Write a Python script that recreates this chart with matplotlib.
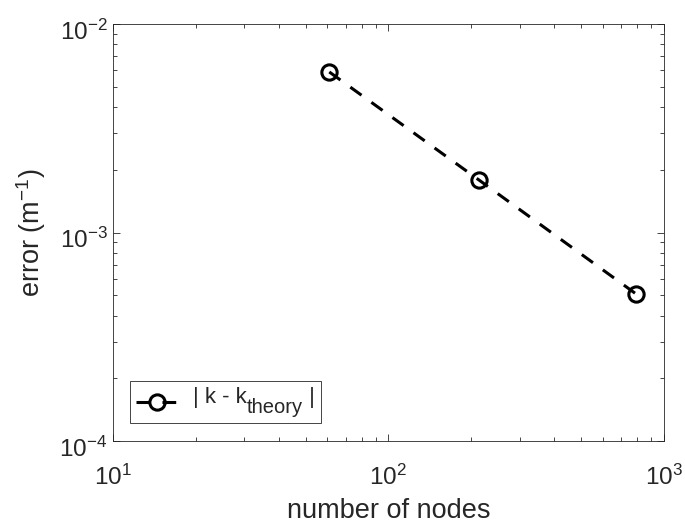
import matplotlib
matplotlib.use("Agg")
import matplotlib.pyplot as plt
import matplotlib.transforms as mtransforms
from matplotlib.lines import Line2D
from matplotlib.offsetbox import (AnchoredOffsetbox, DrawingArea, TextArea,
                                  HPacker, VPacker)
from matplotlib.ticker import LogLocator, NullFormatter, FixedLocator, FixedFormatter

plt.rcParams['font.family'] = ['Liberation Sans', 'DejaVu Sans']
plt.rcParams['mathtext.fontset'] = 'custom'
plt.rcParams['mathtext.rm'] = 'Liberation Sans'
plt.rcParams['mathtext.it'] = 'Liberation Sans'
plt.rcParams['mathtext.default'] = 'regular'

nodes = [61, 213, 796]
error = [5.9e-3, 1.79e-3, 5.06e-4]
xticks = [10, 100, 1000]
xtick_labels = ['$10^{1}$', '$10^{2}$', '$10^{3}$']
yticks = [1e-4, 1e-3, 1e-2]
ytick_labels = ['$10^{-4}$', '$10^{-3}$', '$10^{-2}$']
legend_main = '| k - k'
legend_sub = 'theory'
legend_end = ' |'

grey = '#262626'
lw = 2.2
dash = (0, (4.5, 4))
fig = plt.figure(figsize=(6.85, 5.26), dpi=100)
ax = fig.add_axes([0.165, 0.1616, 0.804, 0.7924])
ax.plot(nodes, error, linestyle=dash, color='black', linewidth=lw,
        marker='o', markersize=11, markerfacecolor='none', markeredgewidth=lw)
ax.set_xscale('log')
ax.set_yscale('log')
ax.set_xlim(10, 1000)
ax.set_ylim(1e-4, 1e-2)
ax.xaxis.set_major_locator(FixedLocator(xticks))
ax.xaxis.set_major_formatter(FixedFormatter(xtick_labels))
ax.yaxis.set_major_locator(FixedLocator(yticks))
ax.yaxis.set_major_formatter(FixedFormatter(ytick_labels))
ax.xaxis.set_minor_locator(LogLocator(base=10, subs=range(2, 10)))
ax.yaxis.set_minor_locator(LogLocator(base=10, subs=range(2, 10)))
ax.xaxis.set_minor_formatter(NullFormatter())
ax.yaxis.set_minor_formatter(NullFormatter())
ax.tick_params(which='both', direction='in', top=True, right=True, colors=grey, width=0.6)
ax.tick_params(which='major', length=5, labelsize=17.5)
ax.tick_params(which='minor', length=3)
ax.tick_params(axis='x', which='major', pad=17)
ax.tick_params(axis='y', which='major', pad=4)
shift = mtransforms.ScaledTranslation(0, -4 / 72, fig.dpi_scale_trans)
for lab in ax.get_yticklabels():
    lab.set_transform(lab.get_transform() + shift)
for s in ax.spines.values():
    s.set_color(grey)
    s.set_linewidth(0.6)
ax.set_xlabel('number of nodes', fontsize=19.5, color=grey, labelpad=6)
ax.set_ylabel('error (m$^{-1}$)', fontsize=19.5, color=grey, labelpad=8)

# legend built from offsetboxes (subscript nearly full size, as in the original)
da = DrawingArea(30, 20, 0, 0)
da.add_artist(Line2D([0, 30], [10, 10], color='black', linewidth=lw, linestyle=dash))
da.add_artist(Line2D([15], [10], color='black', marker='o', markersize=11,
                     markerfacecolor='none', markeredgewidth=lw, linestyle='none'))
tp_main = dict(fontsize=16, color=grey)
tp_sub = dict(fontsize=14.5, color=grey)
t1 = VPacker(children=[TextArea(legend_main, textprops=tp_main), DrawingArea(0, 6.5)],
             sep=0, pad=0, align='left')
t2 = TextArea(legend_sub, textprops=tp_sub)
t3 = VPacker(children=[TextArea(legend_end, textprops=tp_main), DrawingArea(0, 6.5)],
             sep=0, pad=0, align='left')
txt = HPacker(children=[t1, t2, t3], sep=0, pad=0, align='bottom')
row = HPacker(children=[da, txt], sep=11, pad=0, align='center')
box = AnchoredOffsetbox(loc='lower left', child=row, pad=0.45, borderpad=0,
                        frameon=True, prop=dict(size=10),
                        bbox_to_anchor=(0.031, 0.043), bbox_transform=ax.transAxes)
box.patch.set_edgecolor(grey)
box.patch.set_linewidth(0.6)
box.patch.set_boxstyle('square', pad=0)
ax.add_artist(box)
fig.savefig('out.png', dpi=100)
